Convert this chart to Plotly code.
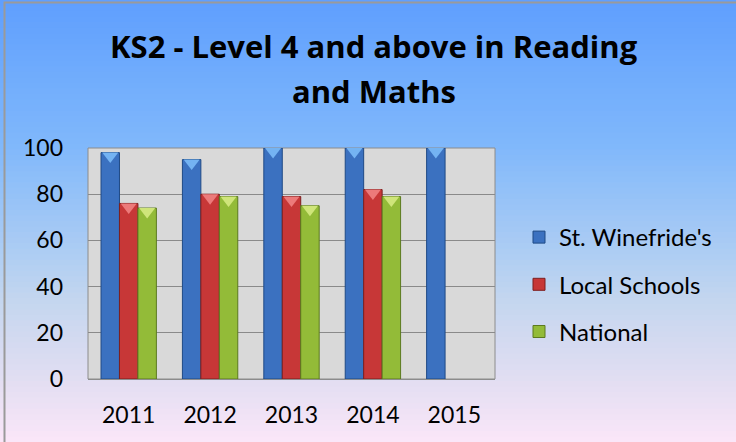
import plotly.graph_objects as go

years = ["2011", "2012", "2013", "2014", "2015"]
series_names = ["St. Winefride's", "Local Schools", "National"]
st_winefrides = [98, 95, 100, 100, 100]
local_schools = [76, 80, 79, 82, None]
national = [74, 79, 75, 79, None]
y_ticks = [0, 20, 40, 60, 80, 100]
title_lines = ["KS2 - Level 4 and above in Reading", "and Maths"]

values = [st_winefrides, local_schools, national]
bar_colors = ["#3b71c0", "#c73737", "#93bb38"]
edge_colors = ["#1f4a85", "#7d1f1f", "#5c7a1f"]
top_colors = ["#74b3f2", "#ec7a7a", "#cfe57a"]

W, H = 736, 442
L, R, T, B = 88, 241, 148, 63
pw, ph = W - L - R, H - T - B
FONT = "Lato"
TFONT = "Open Sans"

fig = go.Figure()
x_idx = list(range(len(years)))
bargap = 0.32
bw = (1 - bargap) / 3

for k, (name, vals) in enumerate(zip(series_names, values)):
    fig.add_trace(go.Bar(
        x=x_idx, y=vals, name=name, legendgroup=name,
        marker=dict(color=bar_colors[k], line=dict(color=edge_colors[k], width=1)),
    ))
# 3D-like pyramid tops
units_per_px = 100 / ph
for k, (name, vals) in enumerate(zip(series_names, values)):
    xs, ys = [], []
    for i, v in enumerate(vals):
        if v is None:
            continue
        xs.append(i + (k - 1) * bw)
        ys.append(v - 3.5 * units_per_px)
    fig.add_trace(go.Scatter(
        x=xs, y=ys, mode="markers", showlegend=False, hoverinfo="skip",
        marker=dict(symbol="triangle-down", size=14, color=top_colors[k], line=dict(width=0)),
    ))

# gradient background
stops = [(0.0, (0x5f, 0x9f, 0xfe)), (0.33, (0x80, 0xb8, 0xfb)), (0.55, (0xa9, 0xcb, 0xf4)),
         (0.68, (0xc4, 0xd6, 0xef)), (0.86, (0xe2, 0xde, 0xf2)), (1.0, (0xfb, 0xe6, 0xf8))]

def col_at(t):
    for (t0, c0), (t1, c1) in zip(stops[:-1], stops[1:]):
        if t0 <= t <= t1:
            f = (t - t0) / (t1 - t0)
            return "rgb(%d,%d,%d)" % tuple(round(a + (b - a) * f) for a, b in zip(c0, c1))
    return "rgb(%d,%d,%d)" % stops[-1][1]

def px_x(p):
    return (p - L) / pw

def px_y(p):
    return (H - B - p) / ph

shapes = []
n = 80
for j in range(n):
    y0p, y1p = H * j / n, H * (j + 1) / n + 1
    shapes.append(dict(type="rect", xref="paper", yref="paper", layer="below",
                       x0=px_x(-2), x1=px_x(W + 2), y0=px_y(y1p), y1=px_y(y0p),
                       fillcolor=col_at((j + 0.5) / n), line=dict(width=0)))
# plot area
shapes.append(dict(type="rect", xref="paper", yref="paper", layer="below",
                   x0=0, x1=1, y0=0, y1=1, fillcolor="#d9d9d9",
                   line=dict(color="#8c8c8c", width=1)))
# outer border
shapes.append(dict(type="rect", xref="paper", yref="paper", layer="above",
                   x0=px_x(4.5), x1=px_x(W + 10), y0=px_y(H + 10), y1=px_y(2.5),
                   fillcolor="rgba(0,0,0,0)", line=dict(color="#9a9a9a", width=2)))

annotations = [
    dict(text="<b>%s</b>" % title_lines[0], xref="paper", yref="paper", x=px_x(374), y=px_y(46),
         showarrow=False, xanchor="center", yanchor="middle", font=dict(family=TFONT, size=31, color="#000")),
    dict(text="<b>%s</b>" % title_lines[1], xref="paper", yref="paper", x=px_x(374), y=px_y(91),
         showarrow=False, xanchor="center", yanchor="middle", font=dict(family=TFONT, size=31, color="#000")),
]

fig.update_layout(
    width=W, height=H, margin=dict(l=L, r=R, t=T, b=B),
    barmode="group", bargap=bargap, bargroupgap=0,
    paper_bgcolor="#fbe6f8", plot_bgcolor="rgba(0,0,0,0)",
    shapes=shapes, annotations=annotations,
    font=dict(family=FONT, size=22, color="#000"),
    legend=dict(x=px_x(519), y=px_y(215), xanchor="left", yanchor="top",
                font=dict(family=FONT, size=24), tracegroupgap=13,
                bgcolor="rgba(0,0,0,0)", itemclick=False),
    showlegend=True,
)
fig.update_xaxes(tickmode="array", tickvals=x_idx, ticktext=years, range=[-0.5, 4.5],
                 showgrid=False, zeroline=False, showline=True, linecolor="#8c8c8c",
                 ticks="", ticklabelstandoff=15, tickfont=dict(size=23))
fig.update_yaxes(range=[0, 100], tickvals=y_ticks, showgrid=True, gridcolor="#8a8a8a", gridwidth=1,
                 zeroline=False, showline=False, ticks="", ticklabelstandoff=24,
                 tickfont=dict(size=23))

fig.write_html("out.html", config={"displayModeBar": False},
               post_script="document.body.style.margin='0';document.body.style.overflow='hidden';")
